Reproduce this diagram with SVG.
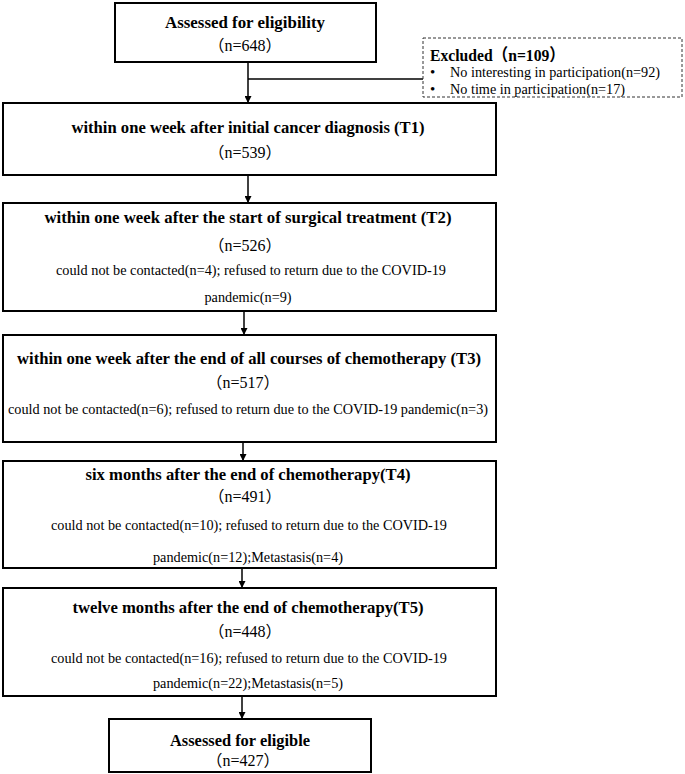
<svg xmlns="http://www.w3.org/2000/svg" width="685" height="774" viewBox="0 0 685 774">
<defs>
<style>
.box{fill:#fff;stroke:#000;stroke-width:2}
.dash{fill:#fff;stroke:#333;stroke-width:1;stroke-dasharray:3,2}
.t{font-family:"Liberation Serif","Noto Sans CJK SC",serif;fill:#000}
.b{font-weight:bold;font-size:17px}
.n{font-size:16px}
.d{font-size:15px}
.ln{stroke:#000;stroke-width:1.5;fill:none}
</style>
<marker id="ah" viewBox="0 0 10 10" refX="10" refY="5" markerWidth="7" markerHeight="7" orient="auto" markerUnits="userSpaceOnUse">
<path d="M0,0 L10,5 L0,10 z" fill="#000"/>
</marker>
</defs>
<rect width="685" height="774" fill="#fff"/>
<g id="connectors">
<line class="ln" x1="248" y1="62" x2="248" y2="103" marker-end="url(#ah)"/>
<line class="ln" x1="248" y1="79" x2="423" y2="79"/>
<line class="ln" x1="248" y1="175" x2="248" y2="203" marker-end="url(#ah)"/>
<line class="ln" x1="244" y1="311" x2="244" y2="335" marker-end="url(#ah)"/>
<line class="ln" x1="243" y1="442" x2="243" y2="461" marker-end="url(#ah)"/>
<line class="ln" x1="242" y1="568" x2="242" y2="588" marker-end="url(#ah)"/>
<line class="ln" x1="242" y1="696" x2="242" y2="719" marker-end="url(#ah)"/>
</g>
<g id="n0">
<rect class="box" x="115" y="3" width="261" height="59"/>
<text class="t b" x="245" y="28" text-anchor="middle" textLength="160" lengthAdjust="spacingAndGlyphs">Assessed for eligibility</text>
<text class="t n" x="245" y="51" text-anchor="middle">（n=648）</text>
</g>
<g id="excluded">
<rect class="dash" x="423" y="38" width="259" height="59"/>
<text class="t b" x="430" y="61" textLength="135" lengthAdjust="spacingAndGlyphs">Excluded（n=109）</text>
<text class="t d" x="430" y="77">•</text>
<text class="t d" x="450" y="77" textLength="210" lengthAdjust="spacingAndGlyphs">No interesting in participation(n=92)</text>
<text class="t d" x="430" y="94">•</text>
<text class="t d" x="450" y="94" textLength="175" lengthAdjust="spacingAndGlyphs">No time in participation(n=17)</text>
</g>
<g id="t1">
<rect class="box" x="3" y="103" width="493" height="72"/>
<text class="t b" x="248" y="133" text-anchor="middle" textLength="353" lengthAdjust="spacingAndGlyphs">within one week after initial cancer diagnosis (T1)</text>
<text class="t n" x="245" y="158" text-anchor="middle">（n=539）</text>
</g>
<g id="t2">
<rect class="box" x="3" y="203" width="493" height="108"/>
<text class="t b" x="248" y="223" text-anchor="middle" textLength="407" lengthAdjust="spacingAndGlyphs">within one week after the start of surgical treatment  (T2)</text>
<text class="t n" x="245" y="251" text-anchor="middle">（n=526）</text>
<text class="t d" x="251" y="275" text-anchor="middle" textLength="390" lengthAdjust="spacingAndGlyphs">could not be contacted(n=4); refused to return due to the COVID-19</text>
<text class="t d" x="248" y="302" text-anchor="middle" textLength="87" lengthAdjust="spacingAndGlyphs">pandemic(n=9)</text>
</g>
<g id="t3">
<rect class="box" x="3" y="335" width="493" height="107"/>
<text class="t b" x="249" y="364" text-anchor="middle" textLength="464" lengthAdjust="spacingAndGlyphs">within one week after the end of all courses of chemotherapy (T3)</text>
<text class="t n" x="243" y="388" text-anchor="middle">（n=517）</text>
<text class="t d" x="248" y="414" text-anchor="middle" textLength="480" lengthAdjust="spacingAndGlyphs">could not be contacted(n=6); refused to return due to the COVID-19 pandemic(n=3)</text>
</g>
<g id="t4">
<rect class="box" x="3" y="461" width="493" height="107"/>
<text class="t b" x="248" y="480" text-anchor="middle" textLength="325" lengthAdjust="spacingAndGlyphs">six months after the end of chemotherapy(T4)</text>
<text class="t n" x="245" y="502" text-anchor="middle">（n=491）</text>
<text class="t d" x="249" y="530" text-anchor="middle" textLength="396" lengthAdjust="spacingAndGlyphs">could not be contacted(n=10); refused to return due to the COVID-19</text>
<text class="t d" x="248" y="562" text-anchor="middle" textLength="190" lengthAdjust="spacingAndGlyphs">pandemic(n=12);Metastasis(n=4)</text>
</g>
<g id="t5">
<rect class="box" x="3" y="588" width="493" height="108"/>
<text class="t b" x="248" y="613" text-anchor="middle" textLength="351" lengthAdjust="spacingAndGlyphs">twelve months after the end of chemotherapy(T5)</text>
<text class="t n" x="245" y="637" text-anchor="middle">（n=448）</text>
<text class="t d" x="249" y="663" text-anchor="middle" textLength="396" lengthAdjust="spacingAndGlyphs">could not be contacted(n=16); refused to return due to the COVID-19</text>
<text class="t d" x="248" y="688" text-anchor="middle" textLength="190" lengthAdjust="spacingAndGlyphs">pandemic(n=22);Metastasis(n=5)</text>
</g>
<g id="final">
<rect class="box" x="109" y="719" width="262" height="53"/>
<text class="t b" x="240" y="746" text-anchor="middle" textLength="140" lengthAdjust="spacingAndGlyphs">Assessed for eligible</text>
<text class="t n" x="243" y="766" text-anchor="middle">（n=427）</text>
</g>
</svg>
